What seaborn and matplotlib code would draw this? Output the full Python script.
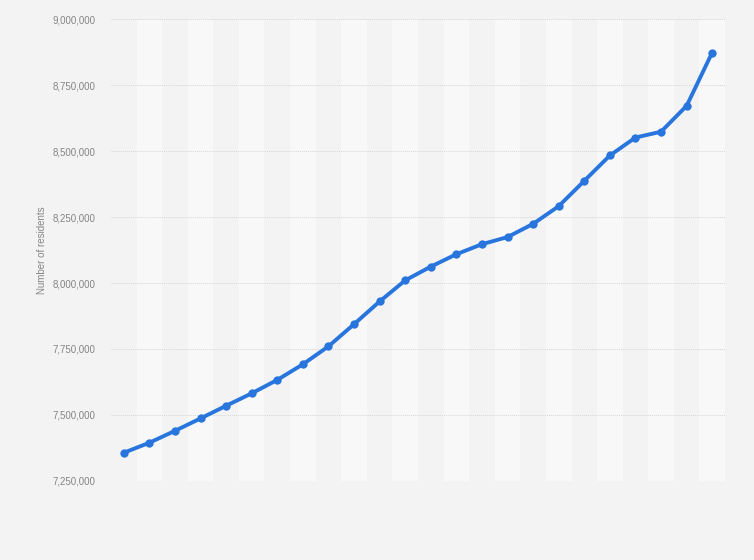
import matplotlib
matplotlib.use("Agg")
import matplotlib.pyplot as plt
import seaborn as sns
import pandas as pd
from matplotlib.ticker import FuncFormatter

# values (no x labels shown)
slot = list(range(24))
residents = [7357000, 7395000, 7440000, 7487000, 7535000, 7582000, 7633000, 7692000,
             7760000, 7844000, 7930000, 8010000, 8062000, 8109000, 8147000, 8174000,
             8224000, 8291000, 8387000, 8483000, 8551000, 8573000, 8671000, 8873000]
y_ticks = [7250000, 7500000, 7750000, 8000000, 8250000, 8500000, 8750000, 9000000]

df = pd.DataFrame({"slot": slot, "residents": residents})

sns.set_style("white")
plt.rcParams["font.family"] = ["Liberation Sans", "DejaVu Sans"]

bg = "#f3f3f3"
fig = plt.figure(figsize=(7.54, 5.60), dpi=100, facecolor=bg)
ax = fig.add_axes([111/754, 79/560, 614/754, 462/560])
ax.set_facecolor(bg)

# alternating column bands
for i in slot:
    if i % 2 == 1:
        ax.axvspan(i - 0.5, i + 0.5, color="#f8f8f8", lw=0, zorder=0)

sns.lineplot(data=df, x="slot", y="residents", ax=ax, color="#2876dd",
             linewidth=2.8, marker="o", markersize=6, markeredgewidth=0,
             zorder=3)

ax.set_xlim(-0.5, len(slot) - 0.5)
ax.set_ylim(y_ticks[0], y_ticks[-1])
ax.set_yticks(y_ticks)
ax.yaxis.set_major_formatter(FuncFormatter(lambda v, p: f"{int(v):,}"))
ax.set_xticks([])
ax.grid(axis="y", color="#d6d6d6", linestyle=(0, (1, 1)), linewidth=0.7, zorder=1)
ax.set_axisbelow(True)
for s in ax.spines.values():
    s.set_visible(False)

ax.tick_params(axis="y", length=0, pad=11, labelsize=7, labelcolor="#858585")
ax.set_xlabel("")
ax.set_ylabel("Number of residents", fontsize=7, color="#858585")
ax.yaxis.set_label_coords(-64/614, 0.5)

fig.savefig("out.png", dpi=100, facecolor=bg)
